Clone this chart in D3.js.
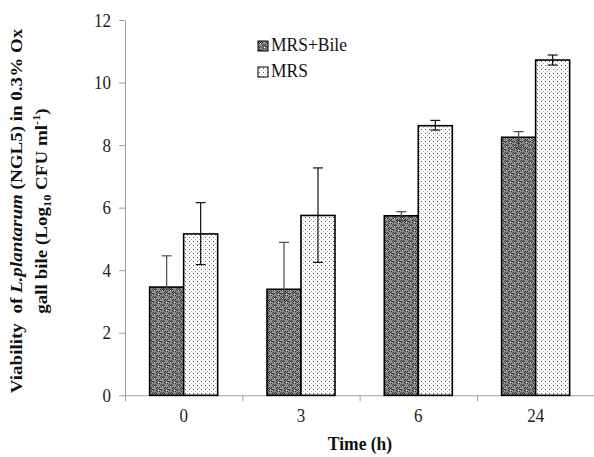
<!DOCTYPE html>
<html>
<head>
<meta charset="utf-8">
<script src="https://cdn.jsdelivr.net/npm/d3@7"></script>
<style>
  body { margin: 0; background: #fff; }
</style>
</head>
<body>
<div id="graph"></div>
<script>
// --- Data ---
const times = ["0", "3", "6", "24"];
const seriesNames = ["MRS+Bile", "MRS"];
const bileValues = [3.46, 3.39, 5.74, 8.25];
const bileErrPlus = [1.0, 1.5, 0.13, 0.18];
const bileErrMinus = [0.07, 0.33, 0.15, 0.33];
const mrsValues = [5.16, 5.75, 8.62, 10.72];
const mrsErrPlus = [1.0, 1.52, 0.17, 0.16];
const mrsErrMinus = [0.98, 1.5, 0.14, 0.16];
const yTicks = [0, 2, 4, 6, 8, 10, 12];

const width = 594, height = 457;
const margin = { top: 20, left: 125 };
const FONT = '"Liberation Serif", "Times New Roman", serif';
const stretch = 1.12; // the source figure is stretched vertically

const svg = d3.select("#graph").append("svg")
    .attr("width", width)
    .attr("height", height)
    .style("display", "block")
    .style("font-family", FONT);

// --- Fill patterns ---
const defs = svg.append("defs");

const pBile = defs.append("pattern")
    .attr("id", "pBile")
    .attr("patternUnits", "userSpaceOnUse")
    .attr("width", 8).attr("height", 8);
pBile.append("rect").attr("width", 8).attr("height", 8).attr("fill", "#8c8c8c");
// dark checker pixels
[[1,0],[3,0],[0,1],[2,1],[4,1],[1,2],[3,2],[5,5],[7,5],[4,4],[6,4],[5,3],[7,3],[6,6],[4,6],[5,7],[7,7],[0,5],[1,6],[2,5]]
    .forEach(([px, py]) => pBile.append("rect").attr("x", px).attr("y", py)
        .attr("width", 1).attr("height", 1).attr("fill", "#303030"));
[[2,2],[6,6]].forEach(([px, py]) => pBile.append("rect").attr("x", px).attr("y", py)
    .attr("width", 1).attr("height", 1).attr("fill", "#eeeeee"));

const pMrs = defs.append("pattern")
    .attr("id", "pMrs")
    .attr("patternUnits", "userSpaceOnUse")
    .attr("width", 4).attr("height", 4);
pMrs.append("rect").attr("width", 4).attr("height", 4).attr("fill", "#fff");
pMrs.append("rect").attr("x", 1).attr("y", 1).attr("width", 1).attr("height", 1).attr("fill", "#555");
pMrs.append("rect").attr("x", 3).attr("y", 3).attr("width", 1).attr("height", 1).attr("fill", "#b8b8b8");

const fills = ["url(#pBile)", "url(#pMrs)"];
const errColors = ["#4a4a4a", "#111"];

// --- Scales ---
const x0 = d3.scaleBand()
    .domain(times)
    .range([margin.left, 594.3])
    .padding(0);

const x1 = d3.scaleBand()
    .domain(seriesNames)
    .range([0, x0.step()])
    .paddingInner(0)
    .paddingOuter(0.725);

const y = d3.scaleLinear()
    .domain([0, 12])
    .range([395.3, margin.top]);

// --- Axes ---
const yAxis = svg.append("g")
    .attr("transform", `translate(${margin.left},0)`)
    .call(d3.axisLeft(y).tickValues(yTicks).tickSize(6).tickSizeOuter(0).tickPadding(8));
yAxis.select(".domain").attr("stroke", "#a0a0a0");
yAxis.selectAll(".tick line").attr("stroke", "#a0a0a0");
yAxis.selectAll("text")
    .style("font-family", FONT).style("font-size", "17px").attr("fill", "#222")
    .attr("transform", `scale(1,${stretch})`);

const xAxis = svg.append("g")
    .attr("transform", `translate(0,${y(0)})`)
    .call(d3.axisBottom(x0).tickSize(0).tickSizeOuter(0).tickPadding(12));
xAxis.select(".domain").attr("stroke", "#a0a0a0");
xAxis.selectAll("text")
    .style("font-family", FONT).style("font-size", "17px").attr("fill", "#222")
    .attr("transform", `scale(1,${stretch})`);

// tick marks between categories
xAxis.selectAll(".sep")
    .data(times)
    .join("line")
    .attr("class", "sep")
    .attr("x1", d => x0(d) + 0.5).attr("x2", d => x0(d) + 0.5)
    .attr("y1", 0).attr("y2", 6)
    .attr("stroke", "#a0a0a0");

// --- Bars ---
const seriesData = [
    { name: seriesNames[0], values: bileValues, plus: bileErrPlus, minus: bileErrMinus },
    { name: seriesNames[1], values: mrsValues, plus: mrsErrPlus, minus: mrsErrMinus }
];

seriesData.forEach((s, si) => {
    svg.append("g")
        .selectAll("rect")
        .data(times)
        .join("rect")
        .attr("x", d => x0(d) + x1(s.name))
        .attr("y", (d, i) => y(s.values[i]))
        .attr("width", x1.bandwidth())
        .attr("height", (d, i) => y(0) - y(s.values[i]))
        .attr("fill", fills[si])
        .attr("stroke", "#000")
        .attr("stroke-width", 1.6);
});

// --- Error bars ---
seriesData.forEach((s, si) => {
    const g = svg.append("g").attr("stroke", errColors[si]).attr("stroke-width", 1.2);
    times.forEach((t, i) => {
        const cx = x0(t) + x1(s.name) + x1.bandwidth() / 2;
        const top = y(s.values[i] + s.plus[i]);
        const bot = y(s.values[i] - s.minus[i]);
        g.append("line").attr("x1", cx).attr("x2", cx).attr("y1", top).attr("y2", bot);
        g.append("line").attr("x1", cx - 5).attr("x2", cx + 5).attr("y1", top).attr("y2", top);
        g.append("line").attr("x1", cx - 5).attr("x2", cx + 5).attr("y1", bot).attr("y2", bot);
    });
});

// --- Legend ---
const legend = svg.append("g").attr("transform", "translate(258,41)");
seriesNames.forEach((name, i) => {
    const g = legend.append("g").attr("transform", `translate(0,${i * 26})`);
    g.append("rect")
        .attr("width", 10).attr("height", 10)
        .attr("fill", fills[i])
        .attr("stroke", "#000")
        .attr("stroke-width", 1);
    g.append("text")
        .attr("transform", `translate(13,10) scale(1,${stretch})`)
        .style("font-size", "17.5px")
        .attr("fill", "#111")
        .text(name);
});

// --- Axis titles ---
svg.append("text")
    .attr("transform", `translate(360,450) scale(1,${stretch})`)
    .attr("text-anchor", "middle")
    .style("font-size", "17.5px")
    .style("font-weight", "bold")
    .attr("fill", "#111")
    .text("Time (h)");

const yTitle = svg.append("g")
    .attr("transform", `translate(0,211) rotate(-90) scale(${stretch},1)`)
    .style("font-size", "17px")
    .style("font-weight", "bold")
    .attr("fill", "#111")
    .attr("text-anchor", "middle");

const line1 = yTitle.append("text").attr("x", 0).attr("y", 22).style("white-space", "pre");
line1.append("tspan").text("Viability  of ");
line1.append("tspan").style("font-style", "italic").text("L.plantarum");
line1.append("tspan").text(" (NGL5) in 0.3% Ox");

const line2 = yTitle.append("text").attr("x", 0).attr("y", 47);
line2.append("tspan").text("gall bile (Log");
line2.append("tspan").style("font-size", "11px").attr("dy", 4).text("10");
line2.append("tspan").attr("dy", -4).text(" CFU ml");
line2.append("tspan").style("font-size", "11px").attr("dy", -7).text("-1");
line2.append("tspan").attr("dy", 7).text(")");
</script>
</body>
</html>
